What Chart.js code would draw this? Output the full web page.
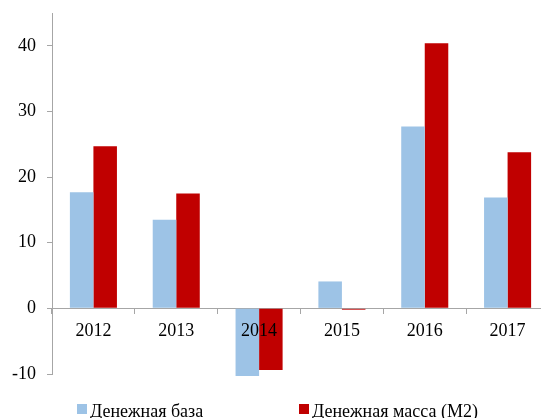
<!DOCTYPE html>
<html><head><meta charset="utf-8">
<script src="https://cdn.jsdelivr.net/npm/chart.js@4"></script>
<style>
html,body{margin:0;padding:0;overflow:hidden;background:#fff;width:541px;height:418px}
#wrap{position:absolute;left:0;top:0;width:549px;height:418px}
</style>
</head><body><div id="wrap"><canvas id="c"></canvas></div>
<script>
const categories = ['2012', '2013', '2014', '2015', '2016', '2017'];
const monetaryBase = [17.7, 13.5, -10.3, 4.1, 27.7, 16.9];
const moneySupplyM2 = [24.7, 17.5, -9.4, -0.2, 40.4, 23.8];
const yTickValues = [-10, 0, 10, 20, 30, 40];
const seriesNames = ['Денежная база', 'Денежная масса (М2)'];
const seriesColors = ['#9DC3E6', '#C00000'];

const FONT = { family: "'Liberation Serif', 'Times New Roman', serif", size: 18 };
const AXIS = '#A6A6A6';

const legendPlugin = {
  id: 'bottomLegend',
  afterDraw(chart) {
    const ctx = chart.ctx;
    const xs = [77, 299];
    const yc = 410;
    ctx.save();
    ctx.font = FONT.size + 'px ' + FONT.family;
    ctx.textBaseline = 'middle';
    ctx.textAlign = 'left';
    chart.data.datasets.forEach((ds, i) => {
      ctx.fillStyle = ds.backgroundColor;
      ctx.fillRect(xs[i], yc - 6, 10, 10);
      ctx.fillStyle = '#000';
      ctx.fillText(ds.label, xs[i] + 13, yc + 2);
    });
    ctx.restore();
  }
};

new Chart(document.getElementById('c'), {
  type: 'bar',
  data: {
    labels: categories,
    datasets: [
      { label: seriesNames[0], data: monetaryBase, backgroundColor: seriesColors[0], borderWidth: 0, clip: false },
      { label: seriesNames[1], data: moneySupplyM2, backgroundColor: seriesColors[1], borderWidth: 0, clip: false }
    ]
  },
  options: {
    animation: false,
    responsive: true,
    maintainAspectRatio: false,
    categoryPercentage: 0.568,
    barPercentage: 1.0,
    layout: { padding: { top: 13, bottom: 44, left: 0, right: 0 } },
    plugins: { legend: { display: false }, tooltip: { enabled: false } },
    scales: {
      x: {
        position: { y: 0 },
        offset: true,
        grid: { display: true, drawOnChartArea: false, offset: true, tickLength: 5, color: AXIS },
        border: { color: AXIS, width: 1 },
        ticks: { font: FONT, color: '#000', padding: 7, maxRotation: 0, autoSkip: false, z: 1 }
      },
      y: {
        min: -10,
        max: 45,
        afterBuildTicks: (axis) => { axis.ticks = yTickValues.map(v => ({ value: v })); },
        afterFit: (axis) => { axis.width = 52; axis.paddingTop = 0; axis.paddingBottom = 0; },
        grid: { display: true, drawOnChartArea: false, tickLength: 5, color: AXIS },
        border: { color: AXIS, width: 1 },
        ticks: { font: FONT, color: '#000', padding: 11 }
      }
    }
  },
  plugins: [legendPlugin]
});
</script>
</body></html>
